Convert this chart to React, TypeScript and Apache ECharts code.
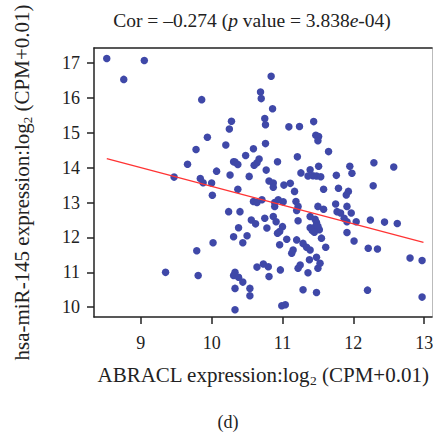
import React, { useEffect, useRef } from "react";
import * as echarts from "echarts";

const xTicks = [9, 10, 11, 12, 13];
const yTicks = [10, 11, 12, 13, 14, 15, 16, 17];

const abraclExpr = [
  8.52, 9.05, 8.76, 9.86, 10.28, 10.25, 9.94, 10.2, 9.78, 9.66, 10.31, 10.07, 10.26, 9.47, 9.84, 9.88,
  10.0, 10.01, 10.24, 10.31, 10.02, 9.79, 9.35, 9.81, 10.33, 10.31, 10.38, 10.44, 10.33, 10.33, 10.54,
  10.54, 10.37, 10.4, 10.56, 10.62, 10.38, 10.5, 10.44, 10.64, 10.53, 10.59, 10.48, 10.33, 10.37, 10.67,
  10.64, 10.6, 10.69, 10.7, 10.84, 10.86, 10.75, 10.76, 11.09, 11.24, 10.76, 10.93, 11.21, 10.77, 10.81,
  10.87, 10.87, 11.26, 11.44, 11.47, 11.51, 11.5, 11.65, 11.95, 11.98, 11.39, 11.51, 11.36, 11.43, 11.48,
  11.54, 11.76, 12.29, 12.57, 12.28, 12.24, 12.44, 12.62, 12.21, 12.34, 12.8, 12.97, 12.2, 12.97, 11.02,
  11.11, 11.17, 11.58, 11.79, 11.93, 11.9, 10.59, 10.64, 10.71, 10.89, 10.89, 11.01, 10.94, 11.19, 11.22,
  11.2, 11.5, 11.58, 11.75, 11.77, 11.82, 11.91, 11.97, 11.87, 11.91, 12.04, 10.75, 10.87, 10.91, 10.78,
  11.0, 10.96, 10.93, 11.22, 11.39, 11.46, 11.48, 11.39, 11.46, 11.42, 11.52, 11.5, 11.45, 11.55, 11.61,
  11.91, 12.01, 11.06, 10.96, 11.2, 11.29, 11.34, 11.39, 11.15, 11.13, 10.73, 10.8, 10.81, 10.97, 11.22,
  11.25, 11.38, 11.48, 11.5, 11.53, 11.36, 11.29, 11.48, 10.99, 11.04,
];

const mir145Expr = [
  17.13, 17.07, 16.53, 15.95, 15.33, 15.11, 14.87, 14.65, 14.52, 14.1, 14.17, 13.9, 13.79, 13.73, 13.69,
  13.57, 13.56, 13.21, 12.74, 12.02, 11.85, 11.62, 11.0, 10.91, 11.0, 10.91, 10.86, 10.72, 10.54, 9.93,
  10.54, 10.33, 13.38, 12.74, 12.5, 12.39, 12.28, 12.05, 11.85, 11.15, 13.75, 14.54, 14.35, 14.16, 14.09,
  14.25, 14.14, 14.07, 16.17, 15.98, 16.62, 15.69, 15.41, 15.23, 15.17, 15.18, 14.69, 14.17, 14.31, 13.93,
  13.62, 13.56, 13.44, 13.85, 15.32, 14.93, 14.89, 14.77, 14.46, 14.04, 13.84, 13.94, 14.04, 13.76, 13.77,
  13.76, 13.74, 13.78, 14.14, 14.02, 13.48, 12.5, 12.44, 12.4, 11.69, 11.67, 11.41, 11.34, 10.49, 10.29,
  13.5, 13.55, 13.32, 13.38, 13.41, 13.32, 13.22, 13.03, 13.0, 13.08, 13.0, 12.89, 13.02, 13.08, 13.03,
  12.89, 12.77, 12.89, 12.81, 12.96, 12.74, 12.7, 12.89, 12.7, 12.55, 12.45, 12.45, 12.55, 12.6, 12.45,
  12.27, 12.31, 12.17, 12.12, 12.48, 12.6, 12.52, 12.43, 12.28, 12.3, 12.2, 12.22, 12.32, 12.15, 11.98,
  11.72, 12.14, 11.9, 11.95, 11.79, 11.93, 11.83, 11.72, 11.64, 11.64, 11.55, 11.24, 11.16, 10.88, 11.07,
  11.12, 11.21, 11.36, 11.43, 11.12, 11.26, 10.99, 10.5, 10.42, 10.04, 10.07,
];

const fitLineX = [8.52, 12.99];
const fitLineY = [14.26, 11.86];

const FONT = "'Liberation Serif', 'DejaVu Serif', serif";
const INK = "#222";

export default function App() {
  const ref = useRef<HTMLDivElement>(null);

  useEffect(() => {
    if (!ref.current) return;
    const chart = echarts.init(ref.current, null, { renderer: "svg" });
    const points = abraclExpr.map((x, i) => [x, mir145Expr[i]]);
    const line = fitLineX.map((x, i) => [x, fitLineY[i]]);

    const tick = { fontSize: 18, fontFamily: FONT, color: INK, fontWeight: "normal" };
    const nameN = { fontSize: 21, fontFamily: FONT, color: INK, fontWeight: "normal" };
    const sub = { fontSize: 13.5, fontFamily: FONT, color: INK, fontWeight: "normal", padding: [11, 0, 0, 0] };
    const titleN = { fontSize: 19.5, fontFamily: FONT, color: INK, fontWeight: "normal" };

    chart.setOption({
      animation: false,
      backgroundColor: "#fff",
      title: [
        {
          text: "{n|Cor = –0.274 (}{i|p}{n| value = 3.838}{i|e}{n|-04)}",
          left: 247,
          top: 5,
          textAlign: "center",
          textStyle: {
            fontWeight: "normal",
            rich: {
              n: { ...titleN },
              i: { ...titleN, fontStyle: "italic" },
            },
          },
        },
        {
          text: "(d)",
          left: 223,
          top: 408,
          textAlign: "center",
          textStyle: { ...tick, fontSize: 18 },
        },
      ],
      grid: { left: 94, right: 1, top: 48, bottom: 117, containLabel: false, outerBoundsMode: "none" },
      xAxis: [
        {
          type: "value",
          min: 8.34,
          max: 13.11,
          position: "bottom",
          axisLine: { show: true, lineStyle: { color: INK, width: 1.5 } },
          axisTick: { show: true, customValues: xTicks, length: 7, lineStyle: { color: INK, width: 1.5 } },
          axisLabel: { customValues: xTicks, margin: 17, ...tick },
          splitLine: { show: false },
          name: "{n|ABRACL expression:log}{s|2}{n| (CPM+0.01)}",
          nameLocation: "middle",
          nameGap: 45,
          nameTextStyle: { rich: { n: { ...nameN }, s: sub } },
        },
        {
          type: "value",
          min: 8.34,
          max: 13.11,
          position: "top",
          axisLine: { show: true, lineStyle: { color: INK, width: 1.5 } },
          axisTick: { show: false },
          axisLabel: { show: false },
          splitLine: { show: false },
        },
      ],
      yAxis: [
        {
          type: "value",
          min: 9.72,
          max: 17.43,
          position: "left",
          axisLine: { show: true, lineStyle: { color: INK, width: 1.5 } },
          axisTick: { show: true, customValues: yTicks, length: 7, lineStyle: { color: INK, width: 1.5 } },
          axisLabel: { customValues: yTicks, margin: 14, ...tick },
          splitLine: { show: false },
          name: "{n|hsa-miR-145 expression:log}{s|2}{n| (CPM+0.01)}",
          nameLocation: "middle",
          nameGap: 60,
          nameRotate: 90,
          nameTextStyle: { rich: { n: { ...nameN, fontSize: 21 }, s: { ...sub, fontSize: 13 } } },
        },
        {
          type: "value",
          min: 9.72,
          max: 17.43,
          position: "right",
          axisLine: { show: true, lineStyle: { color: "#bbb", width: 1 } },
          axisTick: { show: false },
          axisLabel: { show: false },
          splitLine: { show: false },
        },
      ],
      series: [
        {
          type: "scatter",
          data: points,
          symbolSize: 7.5,
          itemStyle: { color: "#3f48a8", opacity: 1 },
          z: 3,
        },
        {
          type: "line",
          data: line,
          symbol: "none",
          lineStyle: { color: "#ff3333", width: 1.2 },
          z: 4,
        },
      ],
    });
    return () => chart.dispose();
  }, []);

  return (
    <div
      ref={ref}
      style={{ position: "absolute", left: 0, top: 0, width: 433, height: 434, background: "#fff" }}
    />
  );
}
